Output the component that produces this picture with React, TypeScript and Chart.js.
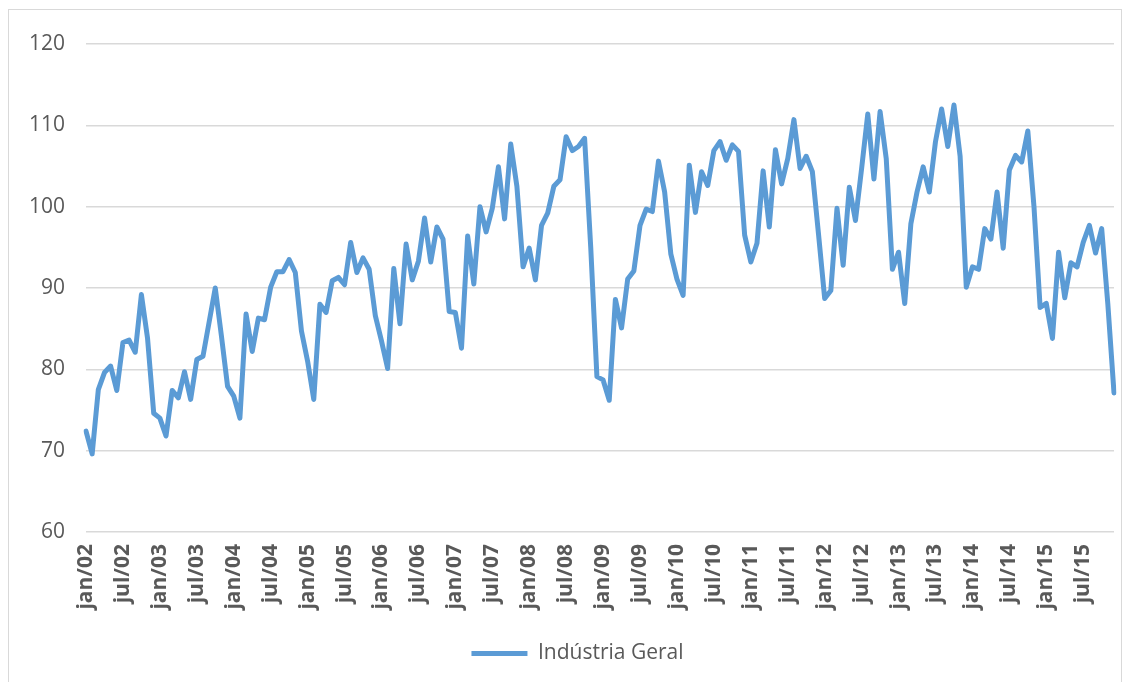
import React, { useEffect, useRef } from "react";
import { Chart, registerables } from "chart.js";

Chart.register(...registerables);

const YEARS = ["02", "03", "04", "05", "06", "07", "08", "09", "10", "11", "12", "13", "14", "15"];
const MONTHS = ["jan", "fev", "mar", "abr", "mai", "jun", "jul", "ago", "set", "out", "nov", "dez"];
const CATEGORIES = YEARS.flatMap((y) => MONTHS.map((m) => `${m}/${y}`));

const SERIES_NAME = "Indústria Geral";
const INDUSTRIA_GERAL = [
  // 2002
  72.4, 69.6, 77.5, 79.6, 80.4, 77.4, 83.3, 83.6, 82.1, 89.2, 83.8, 74.6,
  // 2003
  74.0, 71.8, 77.4, 76.5, 79.7, 76.3, 81.2, 81.6, 85.8, 90.0, 84.1, 77.9,
  // 2004
  76.7, 74.0, 86.8, 82.2, 86.3, 86.1, 90.1, 92.0, 92.0, 93.5, 91.9, 84.7,
  // 2005
  81.0, 76.3, 88.0, 87.0, 90.9, 91.3, 90.4, 95.6, 91.9, 93.7, 92.3, 86.6,
  // 2006
  83.5, 80.1, 92.4, 85.6, 95.4, 91.0, 93.3, 98.6, 93.2, 97.5, 96.0, 87.1,
  // 2007
  87.0, 82.6, 96.4, 90.5, 100.0, 96.9, 99.8, 104.9, 98.5, 107.7, 102.5, 92.6,
  // 2008
  94.9, 91.0, 97.7, 99.2, 102.5, 103.3, 108.6, 106.9, 107.4, 108.4, 94.9, 79.1,
  // 2009
  78.7, 76.2, 88.6, 85.1, 91.1, 92.1, 97.7, 99.7, 99.4, 105.6, 101.8, 94.2,
  // 2010
  91.1, 89.1, 105.1, 99.3, 104.3, 102.6, 106.9, 108.0, 105.7, 107.6, 106.8, 96.5,
  // 2011
  93.2, 95.5, 104.4, 97.5, 107.0, 102.8, 105.9, 110.7, 104.7, 106.2, 104.3, 96.6,
  // 2012
  88.7, 89.7, 99.8, 92.8, 102.4, 98.3, 104.7, 111.4, 103.4, 111.7, 105.9, 92.3,
  // 2013
  94.4, 88.1, 97.9, 101.8, 104.9, 101.8, 108.0, 112.0, 107.4, 112.5, 106.2, 90.1,
  // 2014
  92.6, 92.3, 97.3, 96.0, 101.8, 94.9, 104.5, 106.3, 105.5, 109.3, 100.0, 87.6,
  // 2015
  88.1, 83.8, 94.4, 88.8, 93.1, 92.6, 95.6, 97.7, 94.3, 97.3, 88.0, 77.1,
];

const Y_MIN = 60;
const Y_MAX = 120;
const Y_STEP = 10;
const LABEL_EVERY = 6;

const FONT = "'Open Sans', 'Noto Sans', sans-serif";
const TEXT_COLOR = "#595959";
const LINE_COLOR = "#5B9BD5";
const GRID_COLOR = "#d9d9d9";

const shiftLegend = {
  id: "shiftLegend",
  afterLayout(chart: any) {
    const lg = chart.legend;
    if (lg) {
      lg.left += 16;
      lg.right += 16;
    }
  },
};

export default function App() {
  const canvasRef = useRef<HTMLCanvasElement | null>(null);

  useEffect(() => {
    if (!canvasRef.current) return;
    const chart = new Chart(canvasRef.current, {
      type: "line",
      data: {
        labels: CATEGORIES,
        datasets: [
          {
            label: SERIES_NAME,
            data: INDUSTRIA_GERAL,
            borderColor: LINE_COLOR,
            backgroundColor: LINE_COLOR,
            borderWidth: 5,
            borderCapStyle: "round",
            borderJoinStyle: "round",
            pointRadius: 0,
            pointHoverRadius: 0,
            tension: 0,
            fill: false,
          },
        ],
      },
      plugins: [shiftLegend],
      options: {
        responsive: false,
        animation: false,
        layout: { padding: { left: 0, right: 7, top: 34, bottom: 8 } },
        plugins: {
          tooltip: { enabled: false },
          legend: {
            position: "bottom",
            labels: {
              usePointStyle: true,
              pointStyle: "line",
              pointStyleWidth: 56,
              color: TEXT_COLOR,
              font: { family: FONT, size: 21 },
              padding: 10,
            },
          },
        },
        scales: {
          x: {
            type: "category",
            offset: false,
            grid: { display: false, drawTicks: false },
            border: { display: false },
            afterFit: (scale: any) => {
              scale.height = 101;
              scale.paddingLeft = 0;
              scale.paddingRight = 0;
            },
            ticks: {
              autoSkip: false,
              minRotation: 90,
              maxRotation: 90,
              padding: 12,
              color: TEXT_COLOR,
              font: { family: FONT, size: 21, weight: "bold" },
              callback: (_v: any, i: number) => (i % LABEL_EVERY === 0 ? CATEGORIES[i] : ""),
            },
          },
          y: {
            min: Y_MIN,
            max: Y_MAX,
            border: { display: false },
            grid: { color: GRID_COLOR, lineWidth: 1.5, drawTicks: false },
            afterFit: (scale: any) => {
              scale.width = 77;
            },
            ticks: {
              stepSize: Y_STEP,
              padding: 21,
              color: TEXT_COLOR,
              font: { family: FONT, size: 21 },
            },
          },
        },
      },
    });
    return () => chart.destroy();
  }, []);

  return (
    <div
      style={{
        position: "fixed",
        left: 0,
        top: 0,
        width: 1132,
        height: 682,
        overflow: "hidden",
        background: "#fff",
      }}
    >
      <div
        style={{
          position: "absolute",
          left: 8,
          top: 9,
          width: 1114,
          height: 690,
          border: "1px solid #d9d9d9",
          boxSizing: "border-box",
          background: "#fff",
        }}
      >
        <canvas ref={canvasRef} width={1112} height={672} />
      </div>
    </div>
  );
}
